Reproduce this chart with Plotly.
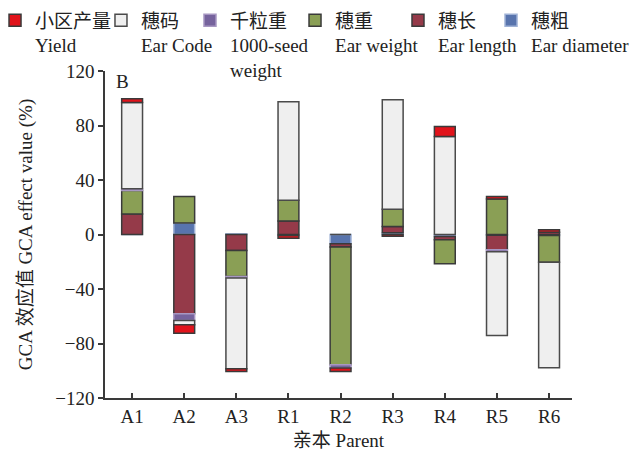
import plotly.graph_objects as go

parents = ["A1", "A2", "A3", "R1", "R2", "R3", "R4", "R5", "R6"]

# GCA effect values (%) per trait
ear_diameter = [0.0, 8.4, 0.5, -0.8, -6.8, 1.2, -1.5, -0.5, -0.8]
ear_length = [15.0, -58.2, -11.7, 10.0, -2.4, 4.7, -2.4, -10.7, 1.7]
ear_weight = [17.3, 19.5, -19.1, 15.2, -86.4, 12.7, -17.6, 26.0, -19.5]
seed_weight = [1.2, -4.9, -1.2, 0.0, -2.4, 0.0, 0.0, -1.4, 0.0]
ear_code = [63.4, -3.2, -66.5, 72.2, 0.0, 80.3, 71.9, -61.6, -77.5]
plot_yield = [2.7, -6.1, -2.0, -2.0, -2.5, -1.2, 7.4, 1.8, 1.7]

series_names = [
    "穗粗<br>Ear diameter",
    "穗长<br>Ear length",
    "穗重<br>Ear weight",
    "千粒重<br>1000-seed<br>weight",
    "穗码<br>Ear Code",
    "小区产量<br>Yield",
]
series_values = [ear_diameter, ear_length, ear_weight, seed_weight, ear_code, plot_yield]
series_colors = ["#5874ad", "#953a49", "#8a9f55", "#76639d", "#efefef", "#e1131b"]
series_lines = ["#9fb2d6", "#3a3a3a", "#3a3a3a", "#a797c2", "#4a4a4a", "#3a3a3a"]
legend_ids = ["legend6", "legend5", "legend4", "legend3", "legend2", "legend"]
legend_x = [0.8266, 0.6274, 0.4069, 0.182, -0.0086, -0.2355]

FONT = "Liberation Serif, Times New Roman, Noto Sans CJK SC, serif"
TXT = "#222222"

fig = go.Figure()
for name, vals, col, lc, lg in zip(series_names, series_values, series_colors, series_lines, legend_ids):
    fig.add_trace(go.Bar(
        x=parents, y=vals, name=name, width=0.4, legend=lg,
        marker=dict(color=col, line=dict(color=lc, width=1.5)),
    ))

legends = {}
for lg, lx in zip(legend_ids, legend_x):
    legends[lg] = dict(
        orientation="h", x=lx, xanchor="left", y=1.213, yanchor="top",
        valign="top", font=dict(family=FONT, size=19, color=TXT),
        bgcolor="rgba(0,0,0,0)", itemclick=False, itemdoubleclick=False,
    )

fig.update_layout(
    width=643, height=454, autosize=False,
    barmode="relative",
    plot_bgcolor="white", paper_bgcolor="white",
    margin=dict(l=105, r=71, t=71, b=56, autoexpand=False),
    font=dict(family=FONT, size=19, color=TXT),
    showlegend=True,
    **legends,
    xaxis=dict(
        range=[-0.52, 8.44], showline=True, linecolor="#3a3a3a", linewidth=1.5,
        ticks="inside", ticklen=5, tickcolor="#3a3a3a", tickwidth=1.5,
        showgrid=False, zeroline=False,
        title=dict(text="亲本 Parent", standoff=8, font=dict(size=19)),
        tickfont=dict(size=19),
    ),
    yaxis=dict(
        range=[-120, 120], dtick=40, tick0=0, showline=True, linecolor="#3a3a3a", linewidth=1.5,
        ticks="outside", ticklen=5, tickcolor="#3a3a3a", tickwidth=1.5,
        showgrid=False, zeroline=False,
        title=dict(text="GCA 效应值 GCA effect value (%)", standoff=18, font=dict(size=19)),
        tickfont=dict(size=19),
    ),
    annotations=[dict(
        text="B", xref="paper", yref="paper", x=0.0385, y=0.969,
        xanchor="center", yanchor="middle", showarrow=False,
        font=dict(family=FONT, size=19, color=TXT),
    )],
)

fig.write_html(
    "out.html",
    config={"displayModeBar": False},
    post_script="document.body.style.margin='0';document.body.style.overflow='hidden';",
)
